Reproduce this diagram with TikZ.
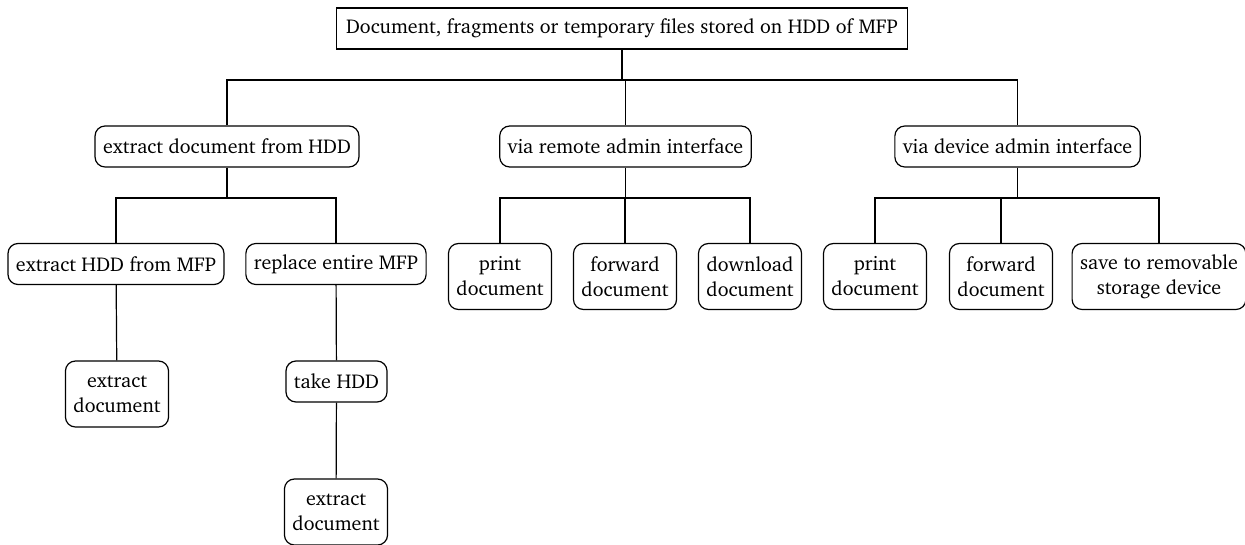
\documentclass[tikz,border=0pt]{standalone}
\usepackage[T1]{fontenc}
\usepackage{charter}
\usetikzlibrary{positioning}

\begin{document}
\begin{tikzpicture}[
      x=0.5pt, y=-0.5pt,
      b/.style={draw, rounded corners=5pt, font=\fontsize{10}{12.5}\selectfont,
                inner xsep=4pt, inner ysep=5pt, minimum height=20.5pt, align=center},
      bb/.style={b, minimum height=33pt},
      r/.style={b, rounded corners=0pt, inner xsep=5pt},
      line width=0.6pt]
    \useasboundingbox (0,0) rectangle (1245,545);
    \node[r] (root) at (622,28.5) {Document, fragments or temporary files stored on HDD of MFP};
    \node[b] (a) at (227,146.5) {extract document from HDD};
    \node[b] (b) at (625.5,146.5) {via remote admin interface};
    \node[b] (c) at (1017.5,146.5) {via device admin interface};
    \node[b] (a1) at (116,264) {extract HDD from MFP};
    \node[b] (a2) at (336,264) {replace entire MFP};
    \node[bb] (a11) at (117,394) {extract\\document};
    \node[b] (a21) at (336.5,381.5) {take HDD};
    \node[bb] (a211) at (336,512) {extract\\document};
    \node[bb] (b1) at (500,276.5) {print\\document};
    \node[bb] (b2) at (625,276.5) {forward\\document};
    \node[bb] (b3) at (750,276.5) {download\\document};
    \node[bb] (c1) at (875,276.5) {print\\document};
    \node[bb] (c2) at (1001,276.5) {forward\\document};
    \node[bb] (c3) at (1159,276.5) {save to removable\\storage device};
    % fork points
    \coordinate (f0) at (622,80);
    \coordinate (fa) at (227,198);
    \coordinate (fb) at (625.5,198);
    \coordinate (fc) at (1017.5,198);
    \draw (root) -- (f0) -| (a); \draw (f0) -| (b); \draw (f0) -| (c);
    \draw (a) -- (fa) -| (a1); \draw (fa) -| (a2);
    \draw (b) -- (fb) -| (b1); \draw (fb) -| (b2); \draw (fb) -| (b3);
    \draw (c) -- (fc) -| (c1); \draw (fc) -| (c2); \draw (fc) -| (c3);
    \draw (a1) -- (a11);
    \draw (a2) -- (a21); \draw (a21) -- (a211);
  \end{tikzpicture}
\end{document}
